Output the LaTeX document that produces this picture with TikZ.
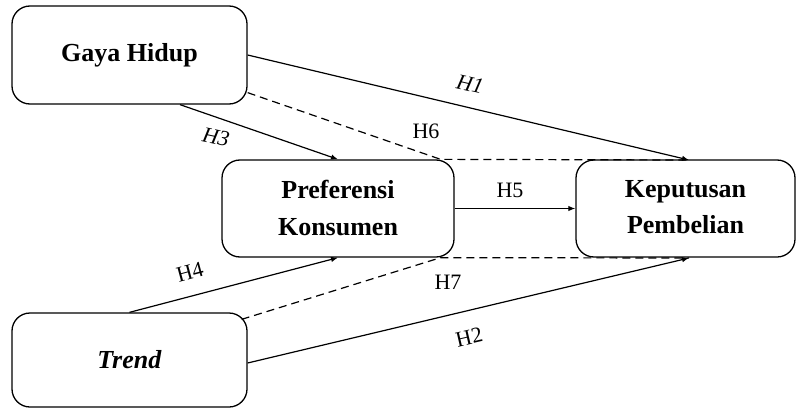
\documentclass[tikz,border=0pt]{standalone}
\usepackage{fontspec}
\setmainfont{Liberation Serif}
\usetikzlibrary{arrows.meta}
\begin{document}
\begin{tikzpicture}[x=1pt,y=-1pt,
  box/.style={draw, line width=1.3pt, rounded corners=18pt, inner sep=0pt,
    font=\fontsize{26}{37}\selectfont\bfseries, align=center},
  link/.style={line width=1.2pt},
  arr/.style={link, -{Latex[length=7pt,width=5.5pt]}},
  dsh/.style={link, dash pattern=on 8pt off 5pt},
  lab/.style={font=\fontsize{22}{24}\selectfont, inner sep=0pt}]
\useasboundingbox (0,0) rectangle (799,409);
\node[box, minimum width=235, minimum height=98] (gh) at (129.5,55) {Gaya Hidup};
\node[box, minimum width=232, minimum height=97] (pk) at (338,208.5) {Preferensi\\Konsumen};
\node[box, minimum width=219, minimum height=97] (kp) at (685.5,208.5) {\raisebox{4pt}{\begin{tabular}{@{}c@{}}Keputusan\\[-1pt]Pembelian\end{tabular}}};
\node[box, minimum width=235, minimum height=94] (tr) at (129.5,360) {\textit{Trend}};
\coordinate (t1) at (689,160);
\coordinate (t2) at (689,258);
% H1
\draw[arr] (gh.east) -- (t1);
% H6
\draw[dsh] ([yshift=12pt]gh.south east) -- ([xshift=-14pt]pk.north east) -- (t1);
% H3
\draw[arr] ([xshift=50.5pt]gh.south) -- (pk.north);
% H5
\draw[arr] (pk.east) -- (kp.west);
% H4
\draw[arr] (tr.north) -- (pk.south);
% H7
\draw[dsh] ([xshift=-6pt,yshift=-7pt]tr.north east) -- ([xshift=-14pt]pk.south east) -- (t2);
% H2
\draw[arr] ([yshift=-3pt]tr.east) -- (t2);
% labels
\node[lab, rotate=-13] (l1) at (470,84) {\textit{H1}};
\node[lab] (l6) at (426,131) {H6};
\node[lab, rotate=-12] (l3) at (216,137) {\textit{H3}};
\node[lab] (l5) at (510,190) {H5};
\node[lab, rotate=15] (l4) at (190,272) {H4};
\node[lab] (l7) at (448,282) {H7};
\node[lab, rotate=13] (l2) at (469,337) {H2};
\end{tikzpicture}
\end{document}
